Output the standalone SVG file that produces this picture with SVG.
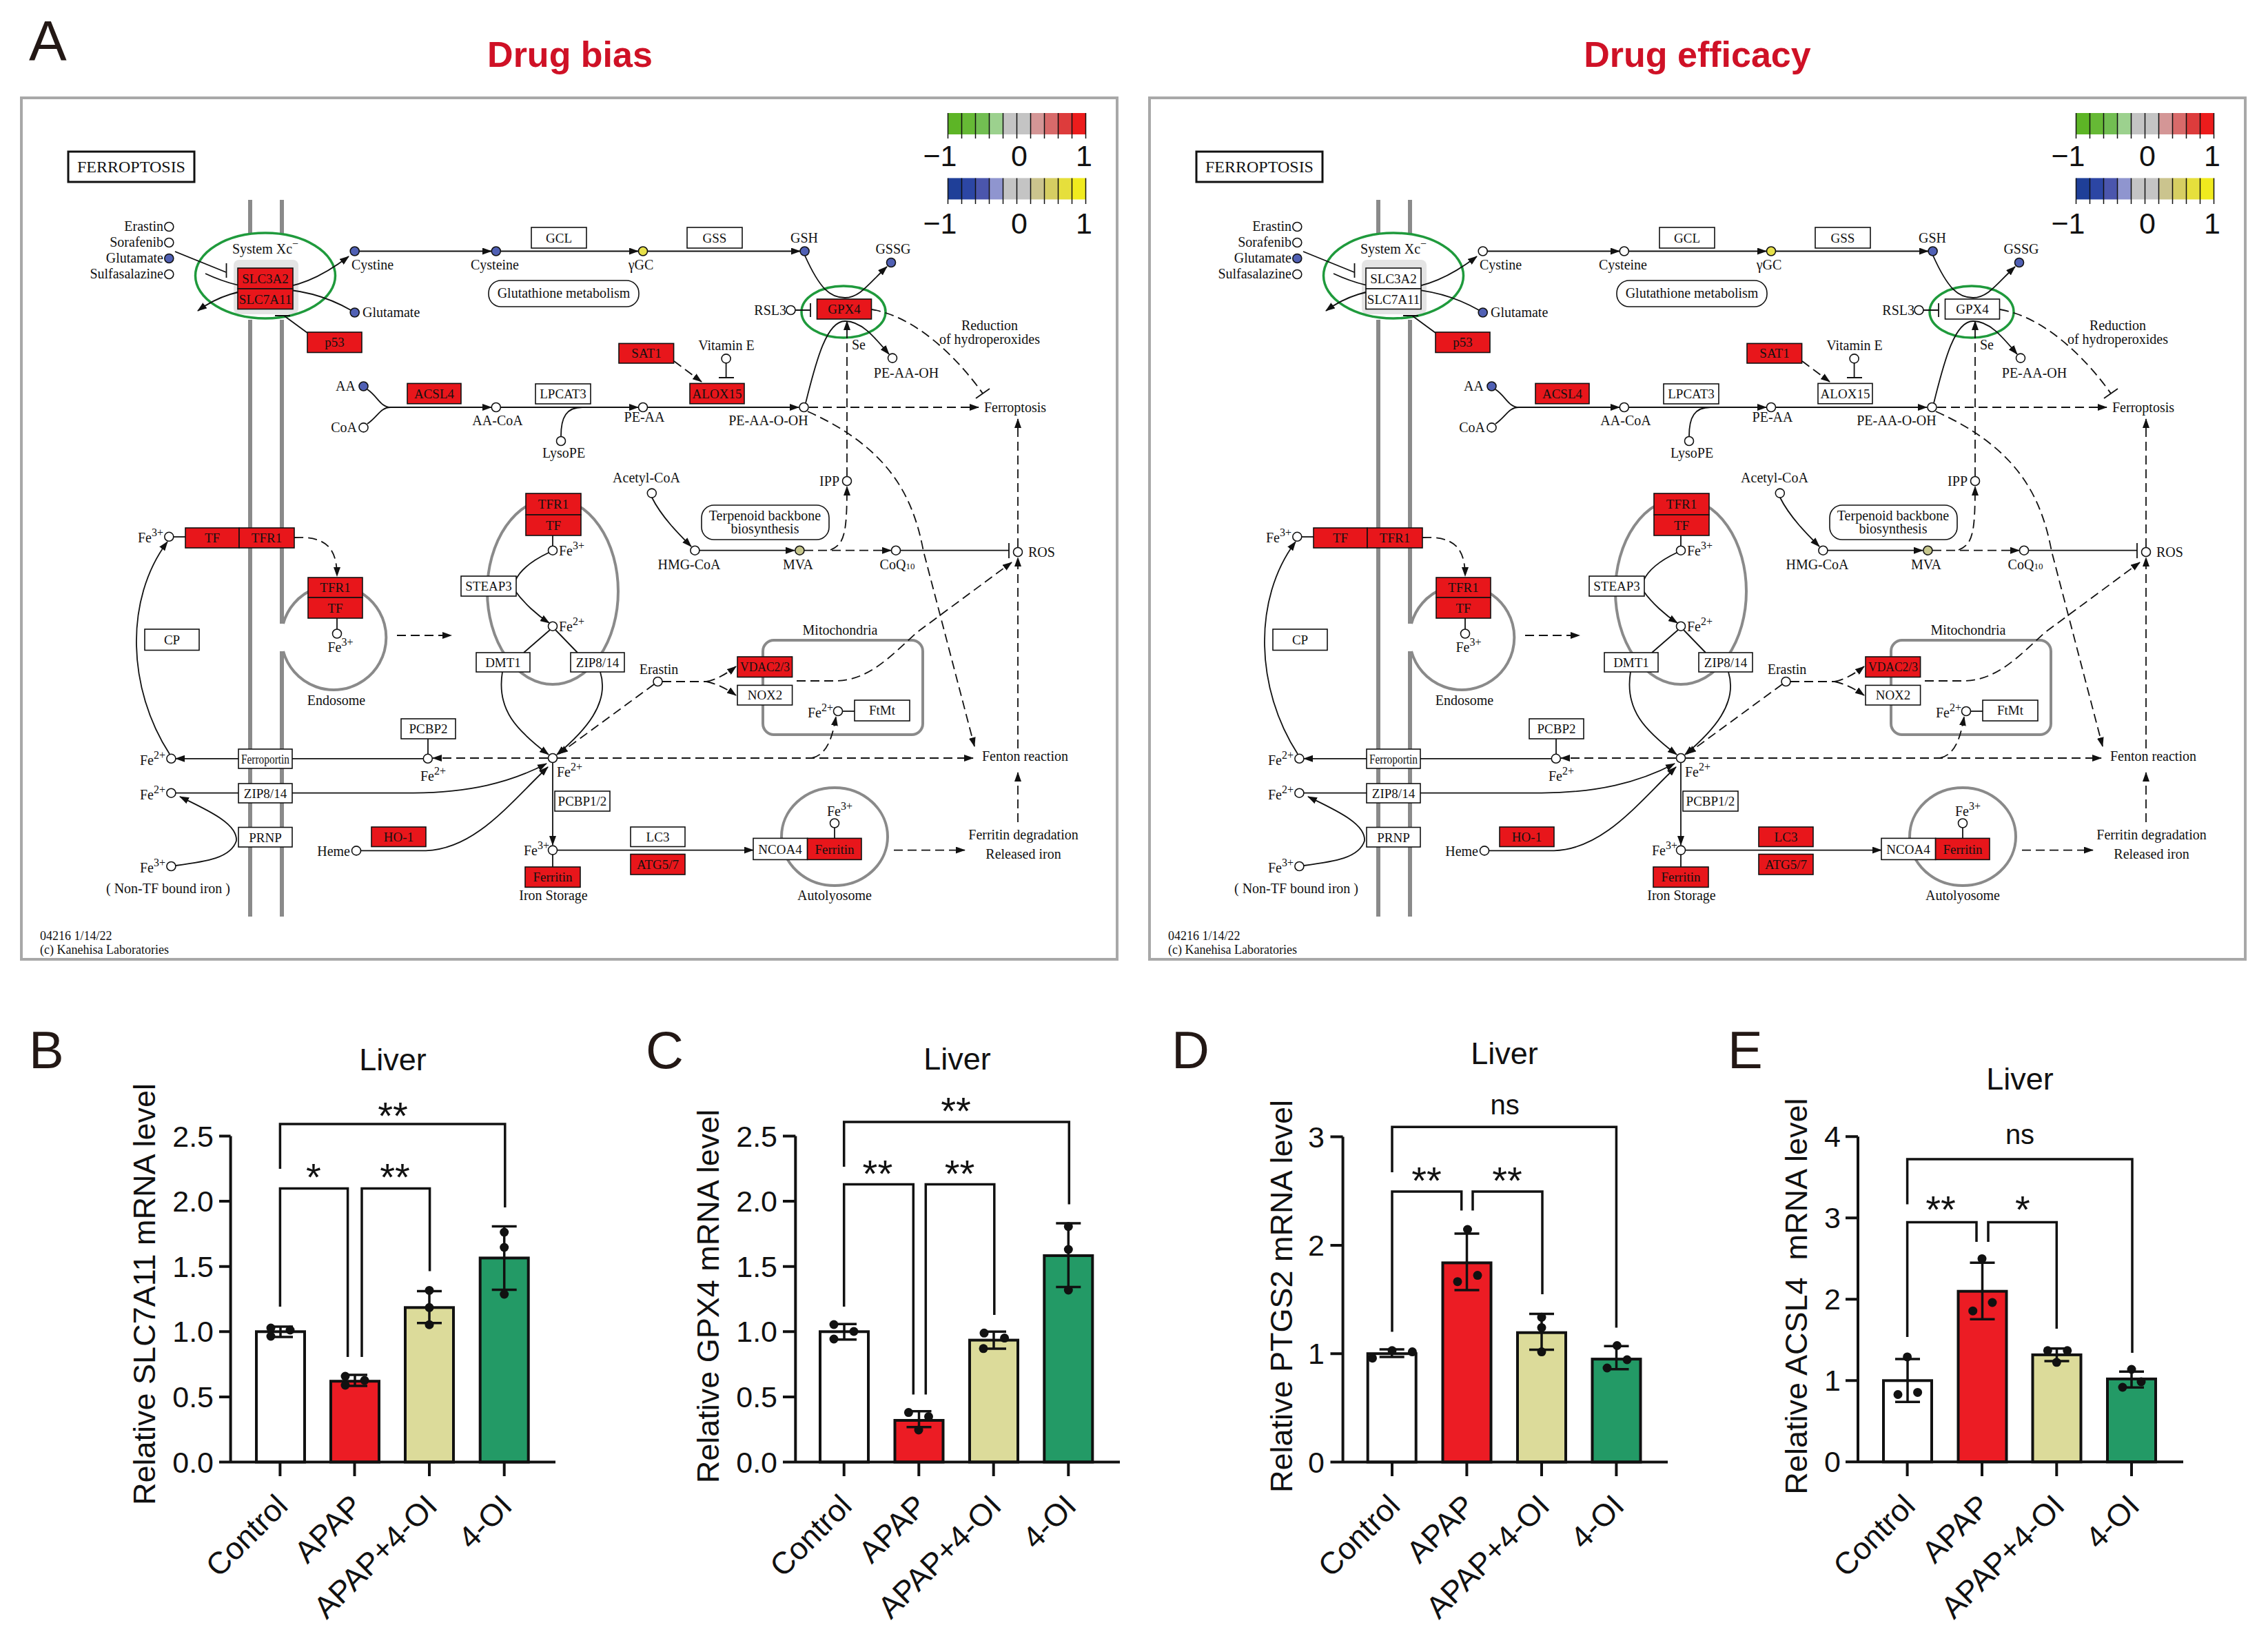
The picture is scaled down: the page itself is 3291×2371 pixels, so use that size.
<svg xmlns="http://www.w3.org/2000/svg" width="3291" height="2371" viewBox="0 0 3291 2371">
<style>
.lb{font-family:"Liberation Serif",serif;font-size:20px;fill:#111}
.gt{font-family:"Liberation Serif",serif;font-size:19px;fill:#111;text-anchor:middle}
.m{text-anchor:middle}
.e{text-anchor:end}
.gw{fill:#fff;stroke:#111;stroke-width:1.6}
.gr{fill:#e8161b;stroke:#111;stroke-width:1.6}
.cw{fill:#fff;stroke:#111;stroke-width:1.6}
.cb{fill:#5060b4;stroke:#111;stroke-width:1.6}
.cy{fill:#e6e04a;stroke:#111;stroke-width:1.6}
.co{fill:#c6c68c;stroke:#111;stroke-width:1.6}
.ln{fill:none;stroke:#111;stroke-width:1.8}
.ds{fill:none;stroke:#111;stroke-width:1.8;stroke-dasharray:13 7}
.mem{fill:none;stroke:#8a8a8a;stroke-width:6}
.cmp{fill:none;stroke:#8a8a8a;stroke-width:4}
.grn{fill:none;stroke:#1f9a3c;stroke-width:3.5}
.pw{fill:#fff;stroke:#111;stroke-width:1.6}
.sp{font-size:16px}
.cbl{font-family:"Liberation Sans",Arial,sans-serif;font-size:43px;fill:#111;text-anchor:middle}
.tk{fill:none;stroke:#111;stroke-width:1.5}
.ax{fill:none;stroke:#111;stroke-width:4}
.br{fill:none;stroke:#111;stroke-width:3.5}
.bar{stroke:#111;stroke-width:4}
.eb{fill:none;stroke:#111;stroke-width:3.5}
.dot{fill:#111}
.sf{font-family:"Liberation Sans",Arial,sans-serif;fill:#111}
.tl{font-size:43px;text-anchor:end}
.xl{font-size:45px;text-anchor:end}
.yt{font-size:45px;text-anchor:middle}
.st{font-size:56px;text-anchor:middle}
.ns{font-size:40px;text-anchor:middle}
.pl{font-size:76px;fill:#231815}
.ttl{font-family:"Liberation Sans",Arial,sans-serif;font-weight:bold;font-size:52px;fill:#cf1126;text-anchor:middle}
</style>
<defs>
<marker id="ah" viewBox="0 0 14 10" refX="13" refY="5" markerWidth="14" markerHeight="10" markerUnits="userSpaceOnUse" orient="auto"><path d="M0,0L14,5L0,10z" fill="#111"/></marker>
<g id="kegg">
<rect x="31" y="142" width="1590" height="1250" fill="#fff" stroke="#a8a8a8" stroke-width="4"/>
<g id="membrane"><path class="mem" d="M363,290V340M363,464V1330M409,290V340M409,464V905M409,945V1330"/></g>
<g id="compartments">
<rect x="339" y="377" width="94" height="79" rx="8" fill="#e4e4e4"/>
<path class="cmp" d="M411,905A76,76 0 1,1 411,945"/>
<ellipse class="cmp" cx="802" cy="858" rx="95" ry="135"/>
<rect class="cmp" x="1107" y="929" width="232" height="137" rx="16"/>
<ellipse class="cmp" cx="1211" cy="1214" rx="77" ry="71"/>
<ellipse class="grn" cx="385" cy="400" rx="101.5" ry="62"/>
<ellipse class="grn" cx="1224" cy="452.5" rx="61" ry="37.5"/>
</g>
<g id="connectors">
<path class="ln" d="M254,365L328,395M328.5,382V403"/>
<path class="ln" marker-end="url(#ah)" d="M298,397Q345,419 390,419Q445,419 506,372"/>
<path class="ln" marker-end="url(#ah)" d="M509,450Q455,419 390,419Q330,419 287,451"/>
<path class="ln" d="M446,483L412,458M399,458H421"/>
<path class="ln" marker-end="url(#ah)" d="M521,364.5H713"/>
<path class="ln" marker-end="url(#ah)" d="M726,364.5H926"/>
<path class="ln" marker-end="url(#ah)" d="M940,364.5H1161"/>
<path class="ln" marker-end="url(#ah)" d="M1168,371C1190,420 1205,432 1226,432C1248,432 1262,410 1287,387"/>
<path class="ln" d="M1154,450H1176M1176,440V460"/>
<path class="ln" marker-end="url(#ah)" d="M1169,585C1185,520 1200,466 1226,466C1250,466 1268,488 1290,514"/>
<path class="ds" d="M1265,449C1330,460 1390,520 1426,571"/>
<path class="ln" d="M1416,578L1436,564"/>
<path class="ds" marker-end="url(#ah)" d="M1229,691V466"/>
<path class="ds" marker-end="url(#ah)" d="M1205,798C1225,790 1229,775 1229,706"/>
<path class="ds" marker-end="url(#ah)" d="M978,524L1018,554"/>
<path class="ln" d="M1053.6,527V548M1043,548H1065"/>
<path class="ln" d="M533,565C548,575 552,591 567,591M533,615C548,605 552,591 567,591"/>
<path class="ln" marker-end="url(#ah)" d="M567,591H713"/>
<path class="ln" marker-end="url(#ah)" d="M726,591H926"/>
<path class="ln" d="M814,633C814,605 822,591 845,591"/>
<path class="ln" marker-end="url(#ah)" d="M940,591H1159"/>
<path class="ds" marker-end="url(#ah)" d="M1174,591H1420"/>
<path class="ds" marker-end="url(#ah)" d="M1172,597C1290,650 1325,720 1340,800L1414,1083"/>
<path class="ds" marker-end="url(#ah)" d="M1477,794V608"/>
<path class="ds" marker-end="url(#ah)" d="M1477,1086V809"/>
<path class="ds" marker-end="url(#ah)" d="M1477,1193V1121"/>
<path class="ln" marker-end="url(#ah)" d="M946,722C960,750 985,775 1003,793"/>
<path class="ln" marker-end="url(#ah)" d="M1015,798.7H1153"/>
<path class="ds" marker-end="url(#ah)" d="M1167,798.7H1293"/>
<path class="ln" d="M1307,798.7H1464M1464,788V810"/>
<path class="ln" d="M252,779H269"/>
<path class="ds" marker-end="url(#ah)" d="M427,780C470,778 489,792 489,836"/>
<path class="ln" d="M489,897V913"/>
<path class="ds" marker-end="url(#ah)" d="M576,922H655"/>
<path class="ln" d="M802,777V792"/>
<path class="ln" d="M796,802C775,812 756,825 748,842"/>
<path class="ln" marker-end="url(#ah)" d="M748,858C760,875 780,893 797,904"/>
<path class="ln" d="M798,914L760,947M806,914L838,947"/>
<path class="ln" marker-end="url(#ah)" d="M729,975C720,1030 750,1060 796,1095"/>
<path class="ln" marker-end="url(#ah)" d="M871,975C885,1020 850,1060 808,1095"/>
<path class="ds" marker-end="url(#ah)" d="M809,1100H1412"/>
<path class="ds" marker-end="url(#ah)" d="M795,1100H628"/>
<path class="ln" d="M621,1072V1094"/>
<path class="ln" marker-end="url(#ah)" d="M614,1100.8H255"/>
<path class="ln" marker-end="url(#ah)" d="M246,1094C185,1000 180,870 243,786"/>
<path class="ln" marker-end="url(#ah)" d="M255,1150.7H600C680,1150 740,1136 793,1108"/>
<path class="ln" marker-end="url(#ah)" d="M255,1256C300,1250 335,1245 343,1220C345,1195 300,1175 261,1156"/>
<path class="ln" marker-end="url(#ah)" d="M524,1234.4H618C690,1232 740,1165 795,1113"/>
<path class="ln" marker-end="url(#ah)" d="M802,1107V1226"/>
<path class="ln" d="M802,1240V1258"/>
<path class="ln" marker-end="url(#ah)" d="M809,1233.6H1093"/>
<path class="ln" d="M1211,1201V1216"/>
<path class="ds" marker-end="url(#ah)" d="M1297,1233.6H1400"/>
<path class="ds" marker-end="url(#ah)" d="M949,993L811,1094"/>
<path class="ds" d="M961,989H1025"/>
<path class="ds" marker-end="url(#ah)" d="M1025,989Q1045,985 1068,967"/>
<path class="ds" marker-end="url(#ah)" d="M1025,989Q1045,993 1068,1009"/>
<path class="ds" marker-end="url(#ah)" d="M1156,988H1215C1260,986 1290,955 1330,918L1468,816"/>
<path class="ds" marker-end="url(#ah)" d="M1178,1100C1200,1095 1208,1070 1213,1040"/>
<path class="ln" d="M1222,1032H1240"/>
</g>
<g id="nodes">
<g id="n-title"><rect x="99" y="220" width="183" height="44" fill="#fff" stroke="#111" stroke-width="3"/><text class="lb m" x="190.5" y="250" style="font-size:24px">FERROPTOSIS</text></g>
<g id="c-erastin"><circle class="cw" cx="245.3" cy="329" r="6.5"/><text class="lb e" x="237" y="335">Erastin</text></g>
<g id="c-sorafenib"><circle class="cw" cx="245.3" cy="352" r="6.5"/><text class="lb e" x="237" y="358">Sorafenib</text></g>
<g id="c-glutamate1"><circle class="cb" cx="245.3" cy="375" r="6.5"/><text class="lb e" x="237" y="381">Glutamate</text></g>
<g id="c-sulfasalazine"><circle class="cw" cx="245.3" cy="398" r="6.5"/><text class="lb e" x="237" y="404">Sulfasalazine</text></g>
<g id="l-systemxc"><text class="lb m" x="385" y="368">System Xc<tspan class="sp" dy="-9">−</tspan></text></g>
<g id="l-cystine"><text class="lb" x="510" y="391">Cystine</text></g>
<g id="l-cysteine"><text class="lb m" x="718" y="391">Cysteine</text></g>
<g id="c-glutamate2"><circle class="cb" cx="514.7" cy="453.5" r="6.5"/><text class="lb" x="526" y="460">Glutamate</text></g>
<g id="n-p53"><rect class="gr" x="446" y="482" width="79" height="29.5"/><text class="gt" x="485.5" y="503">p53</text></g>
<g id="m-glutathione"><rect class="pw" x="709" y="407" width="218" height="38" rx="18"/><text class="lb m" x="818" y="432">Glutathione metabolism</text></g>
<g id="n-gcl"><rect class="gw" x="771" y="330" width="80" height="30"/><text class="gt" x="811" y="351.5">GCL</text></g>
<g id="n-gss"><rect class="gw" x="997" y="330" width="80" height="30"/><text class="gt" x="1037" y="351.5">GSS</text></g>
<g id="c-ygc"><circle class="cy" cx="933" cy="364.5" r="6.5"/><text class="lb m" x="930" y="391">γGC</text></g>
<g id="c-gsh"><circle class="cb" cx="1167.6" cy="364.5" r="6.5"/><text class="lb m" x="1167" y="352">GSH</text></g>
<g id="c-gssg"><circle class="cb" cx="1293" cy="381" r="6.5"/><text class="lb m" x="1296" y="368">GSSG</text></g>
<g id="c-rsl3"><circle class="cw" cx="1147.5" cy="450" r="6.5"/><text class="lb e" x="1141" y="457">RSL3</text></g>
<g id="l-se"><text class="lb" x="1236" y="507">Se</text></g>
<g id="l-reduction"><text class="lb m" x="1436" y="479">Reduction</text><text class="lb m" x="1436" y="499">of hydroperoxides</text></g>
<g id="c-peaaoh"><circle class="cw" cx="1295" cy="519.6" r="6.5"/><text class="lb m" x="1315" y="548">PE-AA-OH</text></g>
<g id="n-sat1"><rect class="gr" x="898" y="498.4" width="79.6" height="28.6"/><text class="gt" x="938" y="519">SAT1</text></g>
<g id="c-vite"><circle class="cw" cx="1053.6" cy="520.4" r="6.5"/><text class="lb m" x="1054" y="508">Vitamin E</text></g>
<g id="c-aa"><circle class="cb" cx="527.5" cy="560.5" r="6.5"/><text class="lb e" x="516" y="567">AA</text></g>
<g id="c-coa"><circle class="cw" cx="527.5" cy="620.4" r="6.5"/><text class="lb e" x="518" y="627">CoA</text></g>
<g id="n-acsl4"><rect class="gr" x="591" y="556.4" width="78" height="29.4"/><text class="gt" x="630" y="578">ACSL4</text></g>
<g id="c-aacoa"><circle class="cw" cx="719.8" cy="591" r="6.5"/><text class="lb m" x="722" y="617">AA-CoA</text></g>
<g id="n-lpcat3"><rect class="gw" x="777" y="557" width="80" height="29"/><text class="gt" x="817" y="578">LPCAT3</text></g>
<g id="c-lysope"><circle class="cw" cx="814" cy="640" r="6.5"/><text class="lb m" x="818" y="664">LysoPE</text></g>
<g id="c-peaa"><circle class="cw" cx="933" cy="591" r="6.5"/><text class="lb m" x="935" y="612">PE-AA</text></g>
<g id="c-peaaooh"><circle class="cw" cx="1166.5" cy="591" r="6.5"/><text class="lb m" x="1115" y="617">PE-AA-O-OH</text></g>
<g id="o-ferroptosis"><text class="lb" x="1428" y="598">Ferroptosis</text></g>
<g id="c-acetylcoa"><circle class="cw" cx="945.8" cy="715.6" r="6.5"/><text class="lb m" x="938" y="700">Acetyl-CoA</text></g>
<g id="c-ipp"><circle class="cw" cx="1229" cy="698" r="6.5"/><text class="lb e" x="1218" y="705">IPP</text></g>
<g id="m-terpenoid"><rect class="pw" x="1018" y="733" width="185" height="50" rx="18"/><text class="lb m" x="1110" y="755">Terpenoid backbone</text><text class="lb m" x="1110" y="774">biosynthesis</text></g>
<g id="c-hmgcoa"><circle class="cw" cx="1008.4" cy="798.7" r="6.5"/><text class="lb m" x="1000" y="826">HMG-CoA</text></g>
<g id="c-mva"><circle class="co" cx="1160.4" cy="798.7" r="6.5"/><text class="lb m" x="1158" y="826">MVA</text></g>
<g id="c-coq10"><circle class="cw" cx="1300" cy="798.7" r="6.5"/><text class="lb m" x="1302" y="826">CoQ<tspan style="font-size:13px">10</tspan></text></g>
<g id="c-ros"><circle class="cw" cx="1477" cy="801" r="6.5"/><text class="lb" x="1492" y="808">ROS</text></g>
<g id="c-fe3-tf"><circle class="cw" cx="245.3" cy="778.8" r="6.5"/><text class="lb e" x="237" y="787">Fe<tspan class="sp" dy="-9">3+</tspan></text></g>
<g id="n-tf"><rect class="gr" x="269" y="766" width="78" height="29"/><text class="gt" x="308" y="787">TF</text></g>
<g id="n-tfr1"><rect class="gr" x="347" y="766" width="80" height="29"/><text class="gt" x="387" y="787">TFR1</text></g>
<g id="n-tfr1-endo"><rect class="gr" x="447" y="838" width="79" height="29"/><text class="gt" x="486.5" y="859">TFR1</text><rect class="gr" x="447" y="867" width="79" height="30"/><text class="gt" x="486.5" y="889">TF</text></g>
<g id="c-fe3-endo"><circle class="cw" cx="489" cy="919.5" r="6.5"/><text class="lb m" x="494" y="946">Fe<tspan class="sp" dy="-9">3+</tspan></text></g>
<g id="l-endosome"><text class="lb m" x="488" y="1023">Endosome</text></g>
<g id="n-tfr1-cyc"><rect class="gr" x="763" y="716" width="80" height="31"/><text class="gt" x="803" y="738">TFR1</text><rect class="gr" x="763" y="747" width="80" height="30"/><text class="gt" x="803" y="769">TF</text></g>
<g id="c-fe3-cyc"><circle class="cw" cx="802" cy="798.7" r="6.5"/><text class="lb" x="811" y="806">Fe<tspan class="sp" dy="-9">3+</tspan></text></g>
<g id="n-steap3"><rect class="gw" x="669" y="836" width="80" height="29"/><text class="gt" x="709" y="857">STEAP3</text></g>
<g id="c-fe2-cyc"><circle class="cw" cx="802" cy="908.7" r="6.5"/><text class="lb" x="811" y="916">Fe<tspan class="sp" dy="-9">2+</tspan></text></g>
<g id="n-dmt1"><rect class="gw" x="691" y="947" width="78" height="28"/><text class="gt" x="730" y="967.5">DMT1</text></g>
<g id="n-zip814a"><rect class="gw" x="828" y="947" width="78" height="28"/><text class="gt" x="867" y="967.5">ZIP8/14</text></g>
<g id="n-cp"><rect class="gw" x="210" y="913" width="79" height="30.5"/><text class="gt" x="249.5" y="935">CP</text></g>
<g id="c-fe2-a"><circle class="cw" cx="248.4" cy="1100.8" r="6.5"/><text class="lb e" x="240" y="1110">Fe<tspan class="sp" dy="-9">2+</tspan></text></g>
<g id="n-ferroportin"><rect class="gw" x="346" y="1087" width="78" height="28"/><text class="gt" x="385" y="1107.5" textLength="70" lengthAdjust="spacingAndGlyphs">Ferroportin</text></g>
<g id="n-pcbp2"><rect class="gw" x="582" y="1043" width="79" height="29"/><text class="gt" x="621.5" y="1064">PCBP2</text></g>
<g id="c-fe2-pcbp2"><circle class="cw" cx="620.8" cy="1100.8" r="6.5"/><text class="lb" x="610" y="1133">Fe<tspan class="sp" dy="-9">2+</tspan></text></g>
<g id="c-fe2-b"><circle class="cw" cx="248.4" cy="1150.7" r="6.5"/><text class="lb e" x="240" y="1160">Fe<tspan class="sp" dy="-9">2+</tspan></text></g>
<g id="n-zip814b"><rect class="gw" x="346" y="1137" width="78" height="28"/><text class="gt" x="385" y="1157.5">ZIP8/14</text></g>
<g id="n-prnp"><rect class="gw" x="346" y="1200.5" width="78" height="28.5"/><text class="gt" x="385" y="1221.5">PRNP</text></g>
<g id="c-fe3-ntbi"><circle class="cw" cx="248.4" cy="1257" r="6.5"/><text class="lb e" x="240" y="1266">Fe<tspan class="sp" dy="-9">3+</tspan></text></g>
<g id="l-ntbi"><text class="lb m" x="244" y="1296">( Non-TF bound iron )</text></g>
<g id="c-heme"><circle class="cw" cx="517" cy="1234.4" r="6.5"/><text class="lb e" x="508" y="1242">Heme</text></g>
<g id="n-ho1"><rect class="gr" x="539" y="1200" width="79" height="28.5"/><text class="gt" x="578.5" y="1221">HO-1</text></g>
<g id="c-fe2-pool"><circle class="cw" cx="802" cy="1100" r="6.5"/><text class="lb" x="808" y="1127">Fe<tspan class="sp" dy="-9">2+</tspan></text></g>
<g id="n-pcbp12"><rect class="gw" x="805" y="1148" width="80" height="29"/><text class="gt" x="845" y="1169">PCBP1/2</text></g>
<g id="c-fe3-store"><circle class="cw" cx="802" cy="1233.6" r="6.5"/><text class="lb e" x="797" y="1241">Fe<tspan class="sp" dy="-9">3+</tspan></text></g>
<g id="n-ferritin-store"><rect class="gr" x="762" y="1258" width="80" height="29.4"/><text class="gt" x="802" y="1279">Ferritin</text></g>
<g id="l-ironstorage"><text class="lb m" x="803" y="1306">Iron Storage</text></g>
<g id="n-atg57"><rect class="gr" x="915" y="1239.5" width="79" height="29.5"/><text class="gt" x="954.5" y="1261">ATG5/7</text></g>
<g id="n-ncoa4"><rect class="gw" x="1093" y="1216.4" width="78.6" height="31"/><text class="gt" x="1132" y="1239">NCOA4</text></g>
<g id="n-ferritin-auto"><rect class="gr" x="1171.6" y="1216.4" width="78.4" height="31"/><text class="gt" x="1211" y="1239">Ferritin</text></g>
<g id="c-fe3-auto"><circle class="cw" cx="1211" cy="1194.5" r="6.5"/><text class="lb" x="1200" y="1184">Fe<tspan class="sp" dy="-9">3+</tspan></text></g>
<g id="l-autolyosome"><text class="lb m" x="1211" y="1306">Autolyosome</text></g>
<g id="o-ferritin-deg"><text class="lb m" x="1485" y="1218">Ferritin degradation</text><text class="lb m" x="1485" y="1246">Released iron</text></g>
<g id="o-fenton"><text class="lb" x="1425" y="1104">Fenton reaction</text></g>
<g id="c-erastin2"><circle class="cw" cx="954.5" cy="989" r="6.5"/><text class="lb m" x="956" y="978">Erastin</text></g>
<g id="n-vdac23"><rect class="gr" x="1070" y="953" width="79.6" height="29.5"/><text class="gt" x="1110" y="974" textLength="72" lengthAdjust="spacingAndGlyphs">VDAC2/3</text></g>
<g id="n-nox2"><rect class="gw" x="1070" y="994.4" width="79.6" height="28.6"/><text class="gt" x="1110" y="1015">NOX2</text></g>
<g id="l-mito"><text class="lb m" x="1219" y="921">Mitochondria</text></g>
<g id="c-fe2-mito"><circle class="cw" cx="1216" cy="1032" r="6.5"/><text class="lb" x="1172" y="1041">Fe<tspan class="sp" dy="-9">2+</tspan></text></g>
<g id="n-ftmt"><rect class="gw" x="1240" y="1016" width="80" height="30"/><text class="gt" x="1280" y="1037">FtMt</text></g>
<g id="l-copyright"><text class="lb" x="58" y="1364" style="font-size:18px">04216 1/14/22</text><text class="lb" x="58" y="1384" style="font-size:18px">(c) Kanehisa Laboratories</text></g>
</g>
<g id="legend">
<rect x="1375.5" y="164" width="20" height="31" fill="#5db526"/><rect x="1395.5" y="164" width="20" height="31" fill="#66b935"/><rect x="1415.5" y="164" width="20" height="31" fill="#72be52"/><rect x="1435.5" y="164" width="20" height="31" fill="#9cd18e"/><rect x="1455.5" y="164" width="20" height="31" fill="#c4c4c4"/><rect x="1475.5" y="164" width="20" height="31" fill="#c4c4c4"/><rect x="1495.5" y="164" width="20" height="31" fill="#d49696"/><rect x="1515.5" y="164" width="20" height="31" fill="#d86a6a"/><rect x="1535.5" y="164" width="20" height="31" fill="#dd3c3c"/><rect x="1555.5" y="164" width="20" height="31" fill="#ec1c1c"/>
<path class="tk" d="M1375.5,164V201M1395.5,164V201M1415.5,164V201M1435.5,164V201M1455.5,164V201M1475.5,164V201M1495.5,164V201M1515.5,164V201M1535.5,164V201M1555.5,164V201M1575.5,164V201"/>
<text class="cbl" x="1364" y="241">−1</text><text class="cbl" x="1479" y="241">0</text><text class="cbl" x="1573" y="241">1</text>
<rect x="1375.5" y="258.4" width="20" height="31" fill="#1f3f98"/><rect x="1395.5" y="258.4" width="20" height="31" fill="#2c46a4"/><rect x="1415.5" y="258.4" width="20" height="31" fill="#4b56ad"/><rect x="1435.5" y="258.4" width="20" height="31" fill="#8f95cf"/><rect x="1455.5" y="258.4" width="20" height="31" fill="#c4c4c4"/><rect x="1475.5" y="258.4" width="20" height="31" fill="#c4c4c4"/><rect x="1495.5" y="258.4" width="20" height="31" fill="#cbc48e"/><rect x="1515.5" y="258.4" width="20" height="31" fill="#d6ce62"/><rect x="1535.5" y="258.4" width="20" height="31" fill="#e6df3c"/><rect x="1555.5" y="258.4" width="20" height="31" fill="#f0ea1e"/>
<path class="tk" d="M1375.5,258.4V296M1395.5,258.4V296M1415.5,258.4V296M1435.5,258.4V296M1455.5,258.4V296M1475.5,258.4V296M1495.5,258.4V296M1515.5,258.4V296M1535.5,258.4V296M1555.5,258.4V296M1575.5,258.4V296"/>
<text class="cbl" x="1364" y="339">−1</text><text class="cbl" x="1479" y="339">0</text><text class="cbl" x="1573" y="339">1</text>
</g>
</g>
</defs>
<rect width="3291" height="2371" fill="#fff"/>
<g id="panelA-labels">
<text class="sf" x="42" y="87" style="font-size:82px;fill:#231815">A</text>
<text class="ttl" x="827" y="97">Drug bias</text>
<text class="ttl" x="2463" y="97">Drug efficacy</text>
</g>
<g id="map-bias">
<use href="#kegg"/>
<g id="c-cystine-L"><circle class="cb" cx="514.7" cy="364.5" r="6.5"/></g>
<g id="c-cysteine-L"><circle class="cb" cx="719.8" cy="364.5" r="6.5"/></g>
<g id="n-slc3a2-L"><rect class="gr" x="345" y="389" width="80" height="30"/><text class="gt" x="385" y="411">SLC3A2</text></g>
<g id="n-slc7a11-L"><rect class="gr" x="345" y="419" width="80" height="29.5"/><text class="gt" x="385" y="441">SLC7A11</text></g>
<g id="n-gpx4-L"><rect class="gr" x="1185.5" y="434" width="79" height="29"/><text class="gt" x="1225" y="455">GPX4</text></g>
<g id="n-alox15-L"><rect class="gr" x="1001" y="556.4" width="79" height="29.4"/><text class="gt" x="1040.5" y="578">ALOX15</text></g>
<g id="n-lc3-L"><rect class="gw" x="915" y="1200" width="79" height="28.5"/><text class="gt" x="954.5" y="1221">LC3</text></g>
</g>
<g id="map-efficacy" transform="translate(1637,0)">
<use href="#kegg"/>
<g id="c-cystine-R"><circle class="cw" cx="514.7" cy="364.5" r="6.5"/></g>
<g id="c-cysteine-R"><circle class="cw" cx="719.8" cy="364.5" r="6.5"/></g>
<g id="n-slc3a2-R"><rect class="gw" x="345" y="389" width="80" height="30"/><text class="gt" x="385" y="411">SLC3A2</text></g>
<g id="n-slc7a11-R"><rect class="gw" x="345" y="419" width="80" height="29.5"/><text class="gt" x="385" y="441">SLC7A11</text></g>
<g id="n-gpx4-R"><rect class="gw" x="1185.5" y="434" width="79" height="29"/><text class="gt" x="1225" y="455">GPX4</text></g>
<g id="n-alox15-R"><rect class="gw" x="1001" y="556.4" width="79" height="29.4"/><text class="gt" x="1040.5" y="578">ALOX15</text></g>
<g id="n-lc3-R"><rect class="gr" x="915" y="1200" width="79" height="28.5"/><text class="gt" x="954.5" y="1221">LC3</text></g>
</g>

<g id="chartB">
<text class="sf pl" x="42" y="1550">B</text>
<text class="sf yt" x="570" y="1553">Liver</text>
<text class="sf yt" transform="translate(225,1878) rotate(-90)">Relative SLC7A11 mRNA level</text>
<rect class="bar" fill="#fff" x="372" y="1932.3" width="70" height="189.2"/>
<rect class="bar" fill="#ec1c24" x="480" y="2004.2" width="70" height="117.3"/>
<rect class="bar" fill="#dcdb9a" x="588" y="1897.3" width="70" height="224.2"/>
<rect class="bar" fill="#239a66" x="696.7" y="1825.4" width="70" height="296.1"/>
<path class="eb" d="M407,1925V1940M389,1925H425M389,1940H425M515,1995V2011M497,1995H533M497,2011H533M623,1873.6V1919.8M605,1873.6H641M605,1919.8H641M731.7,1779.6V1871.4M713.7,1779.6H749.7M713.7,1871.4H749.7"/>
<g class="dot"><circle cx="393" cy="1927" r="6.5"/><circle cx="393" cy="1939" r="6.5"/><circle cx="421" cy="1930" r="6.5"/><circle cx="501" cy="1997" r="6.5"/><circle cx="501" cy="2010" r="6.5"/><circle cx="529" cy="2003" r="6.5"/><circle cx="623" cy="1872.4" r="6.5"/><circle cx="623" cy="1897.3" r="6.5"/><circle cx="623" cy="1922.2" r="6.5"/><circle cx="731.7" cy="1788" r="6.5"/><circle cx="731.7" cy="1810" r="6.5"/><circle cx="731.7" cy="1878" r="6.5"/></g>
<path class="ax" d="M334.6,1648.5V2121.5M318,2121.5H806M318,1648.5H334.6M318,1743.1H334.6M318,1837.7H334.6M318,1932.3H334.6M318,2026.9H334.6M406.4,2121.5V2142M514.5,2121.5V2142M623,2121.5V2142M731.7,2121.5V2142"/>
<g class="sf tl"><text x="310" y="1663.5">2.5</text><text x="310" y="1758">2.0</text><text x="310" y="1852.7">1.5</text><text x="310" y="1947.3">1.0</text><text x="310" y="2042">0.5</text><text x="310" y="2136.5">0.0</text></g>
<path class="br" d="M406.4,1696V1631H732.8V1752M406.4,1896V1724.5H504.6V1969M525,1969V1724.5H623.6V1844.5"/>
<g class="sf st"><text x="570" y="1638">**</text><text x="455" y="1727">*</text><text x="573" y="1727">**</text></g>
<g class="sf xl"><text transform="translate(420,2188) rotate(-45)">Control</text><text transform="translate(528.5,2188) rotate(-45)">APAP</text><text transform="translate(637,2188) rotate(-45)">APAP+4-OI</text><text transform="translate(745.7,2188) rotate(-45)">4-OI</text></g>
</g>

<g id="chartC">
<text class="sf pl" x="937" y="1550">C</text>
<text class="sf yt" x="1389" y="1552">Liver</text>
<text class="sf yt" transform="translate(1043,1881) rotate(-90)">Relative GPX4 mRNA level</text>
<rect class="bar" fill="#fff" x="1190" y="1932.3" width="70" height="189.2"/>
<rect class="bar" fill="#ec1c24" x="1298.5" y="2061" width="70" height="60.5"/>
<rect class="bar" fill="#dcdb9a" x="1407" y="1944.6" width="70" height="176.9"/>
<rect class="bar" fill="#239a66" x="1515.3" y="1822" width="70" height="299.5"/>
<path class="eb" d="M1225,1921.3V1943.7M1207,1921.3H1243M1207,1943.7H1243M1333.5,2047.7V2070.8M1315.5,2047.7H1351.5M1315.5,2070.8H1351.5M1442,1932.3V1956.9M1424,1932.3H1460M1424,1956.9H1460M1550.3,1774.9V1867.6M1532.3,1774.9H1568.3M1532.3,1867.6H1568.3"/>
<g class="dot"><circle cx="1210" cy="1922" r="6.5"/><circle cx="1210" cy="1943" r="6.5"/><circle cx="1239" cy="1932" r="6.5"/><circle cx="1318.4" cy="2049.6" r="6.5"/><circle cx="1347.5" cy="2055.6" r="6.5"/><circle cx="1333" cy="2075" r="6.5"/><circle cx="1428" cy="1934.3" r="6.5"/><circle cx="1457.6" cy="1941.6" r="6.5"/><circle cx="1427" cy="1956.8" r="6.5"/><circle cx="1550.3" cy="1779.7" r="6.5"/><circle cx="1550.3" cy="1813" r="6.5"/><circle cx="1550.3" cy="1872" r="6.5"/></g>
<path class="ax" d="M1154.3,1648.5V2121.5M1136,2121.5H1625M1136,1648.5H1154.3M1136,1743.1H1154.3M1136,1837.7H1154.3M1136,1932.3H1154.3M1136,2026.9H1154.3M1224.7,2121.5V2142M1333.3,2121.5V2142M1441.7,2121.5V2142M1550.3,2121.5V2142"/>
<g class="sf tl"><text x="1128" y="1663.5">2.5</text><text x="1128" y="1758">2.0</text><text x="1128" y="1852.7">1.5</text><text x="1128" y="1947.3">1.0</text><text x="1128" y="2042">0.5</text><text x="1128" y="2136.5">0.0</text></g>
<path class="br" d="M1224.7,1693V1628H1551.3V1747.5M1224.7,1896V1718.4H1325.3V2023.5M1343.3,2023.5V1718.4H1442.8V1908"/>
<g class="sf st"><text x="1387" y="1631">**</text><text x="1273.4" y="1722">**</text><text x="1392.5" y="1722">**</text></g>
<g class="sf xl"><text transform="translate(1238.7,2188) rotate(-45)">Control</text><text transform="translate(1347.3,2188) rotate(-45)">APAP</text><text transform="translate(1455.7,2188) rotate(-45)">APAP+4-OI</text><text transform="translate(1564.3,2188) rotate(-45)">4-OI</text></g>
</g>

<g id="chartD">
<text class="sf pl" x="1700" y="1550">D</text>
<text class="sf yt" x="2183" y="1544">Liver</text>
<text class="sf yt" transform="translate(1875,1881) rotate(-90)">Relative PTGS2 mRNA level</text>
<rect class="bar" fill="#fff" x="1984.7" y="1964.2" width="70" height="157.3"/>
<rect class="bar" fill="#ec1c24" x="2093.5" y="1832.4" width="70" height="289.1"/>
<rect class="bar" fill="#dcdb9a" x="2202" y="1933.7" width="70" height="187.8"/>
<rect class="bar" fill="#239a66" x="2310.5" y="1972.1" width="70" height="149.4"/>
<path class="eb" d="M2019.7,1957.9V1968.9M2001.7,1957.9H2037.7M2001.7,1968.9H2037.7M2128.5,1790V1872M2110.5,1790H2146.5M2110.5,1872H2146.5M2237,1906.5V1958.5M2219,1906.5H2255M2219,1958.5H2255M2345.5,1953.2V1986.7M2327.5,1953.2H2363.5M2327.5,1986.7H2363.5"/>
<g class="dot"><circle cx="1991.5" cy="1970.7" r="6.5"/><circle cx="2020" cy="1959.8" r="6.5"/><circle cx="2049.4" cy="1961.6" r="6.5"/><circle cx="2129.5" cy="1784" r="6.5"/><circle cx="2115" cy="1859.7" r="6.5"/><circle cx="2144" cy="1850.6" r="6.5"/><circle cx="2237" cy="1911.3" r="6.5"/><circle cx="2237" cy="1926.4" r="6.5"/><circle cx="2237" cy="1961.6" r="6.5"/><circle cx="2346.4" cy="1952.5" r="6.5"/><circle cx="2361" cy="1973" r="6.5"/><circle cx="2332" cy="1985" r="6.5"/></g>
<path class="ax" d="M1948.6,1649.6V2121.5M1930.5,2121.5H2420M1930.5,1649.6H1948.6M1930.5,1806.9H1948.6M1930.5,1964.2H1948.6M2020,2121.5V2142M2128.4,2121.5V2142M2237,2121.5V2142M2345.4,2121.5V2142"/>
<g class="sf tl"><text x="1922" y="1664.6">3</text><text x="1922" y="1821.9">2</text><text x="1922" y="1979.2">1</text><text x="1922" y="2136.5">0</text></g>
<path class="br" d="M2020,1701V1635.3H2345.4V1926.4M2020,1932.5V1729H2120.7V1756.6M2137,1756.6V1729H2238V1878"/>
<text class="sf ns" x="2183.7" y="1617">ns</text>
<g class="sf st"><text x="2070" y="1732">**</text><text x="2187" y="1732">**</text></g>
<g class="sf xl"><text transform="translate(2034,2188) rotate(-45)">Control</text><text transform="translate(2142.4,2188) rotate(-45)">APAP</text><text transform="translate(2251,2188) rotate(-45)">APAP+4-OI</text><text transform="translate(2359.4,2188) rotate(-45)">4-OI</text></g>
</g>

<g id="chartE">
<text class="sf pl" x="2507" y="1550">E</text>
<text class="sf yt" x="2931" y="1581">Liver</text>
<text class="sf yt" xml:space="preserve" transform="translate(2622,1881) rotate(-90)">Relative ACSL4  mRNA level</text>
<rect class="bar" fill="#fff" x="2733" y="2003.3" width="70" height="118"/>
<rect class="bar" fill="#ec1c24" x="2841.5" y="1873.7" width="70" height="247.6"/>
<rect class="bar" fill="#dcdb9a" x="2949.5" y="1965.9" width="70" height="155.4"/>
<rect class="bar" fill="#239a66" x="3058" y="2000.9" width="70" height="120.4"/>
<path class="eb" d="M2768,1971.9V2034.3M2750,1971.9H2786M2750,2034.3H2786M2876.5,1832.2V1914.3M2858.5,1832.2H2894.5M2858.5,1914.3H2894.5M2984.5,1956.7V1975M2966.5,1956.7H3002.5M2966.5,1975H3002.5M3093,1990.3V2013.2M3075,1990.3H3111M3075,2013.2H3111"/>
<g class="dot"><circle cx="2767.6" cy="1968.9" r="6.5"/><circle cx="2754" cy="2023.5" r="6.5"/><circle cx="2782.6" cy="2020.4" r="6.5"/><circle cx="2876" cy="1826.4" r="6.5"/><circle cx="2862.7" cy="1902.2" r="6.5"/><circle cx="2891" cy="1890" r="6.5"/><circle cx="2971.3" cy="1959.8" r="6.5"/><circle cx="2999.8" cy="1959.8" r="6.5"/><circle cx="2984.3" cy="1976.8" r="6.5"/><circle cx="3093" cy="1987" r="6.5"/><circle cx="3080" cy="2013" r="6.5"/><circle cx="3107" cy="2005" r="6.5"/></g>
<path class="ax" d="M2696,1649.3V2121.3M2678,2121.3H3168M2678,1649.3H2696M2678,1767.3H2696M2678,1885.3H2696M2678,2003.3H2696M2767.6,2121.3V2142M2876,2121.3V2142M2984.3,2121.3V2142M3093,2121.3V2142"/>
<g class="sf tl"><text x="2671" y="1664.3">4</text><text x="2671" y="1782.3">3</text><text x="2671" y="1900.3">2</text><text x="2671" y="2018.3">1</text><text x="2671" y="2136.3">0</text></g>
<path class="br" d="M2767.6,1747.5V1682H3094V1963M2767.6,1940V1773.6H2868V1802M2885,1802V1773.6H2984.3V1928"/>
<text class="sf ns" x="2931" y="1660">ns</text>
<g class="sf st"><text x="2816" y="1774">**</text><text x="2935" y="1774">*</text></g>
<g class="sf xl"><text transform="translate(2781.6,2188) rotate(-45)">Control</text><text transform="translate(2890,2188) rotate(-45)">APAP</text><text transform="translate(2998.3,2188) rotate(-45)">APAP+4-OI</text><text transform="translate(3107,2188) rotate(-45)">4-OI</text></g>
</g>
</svg>
